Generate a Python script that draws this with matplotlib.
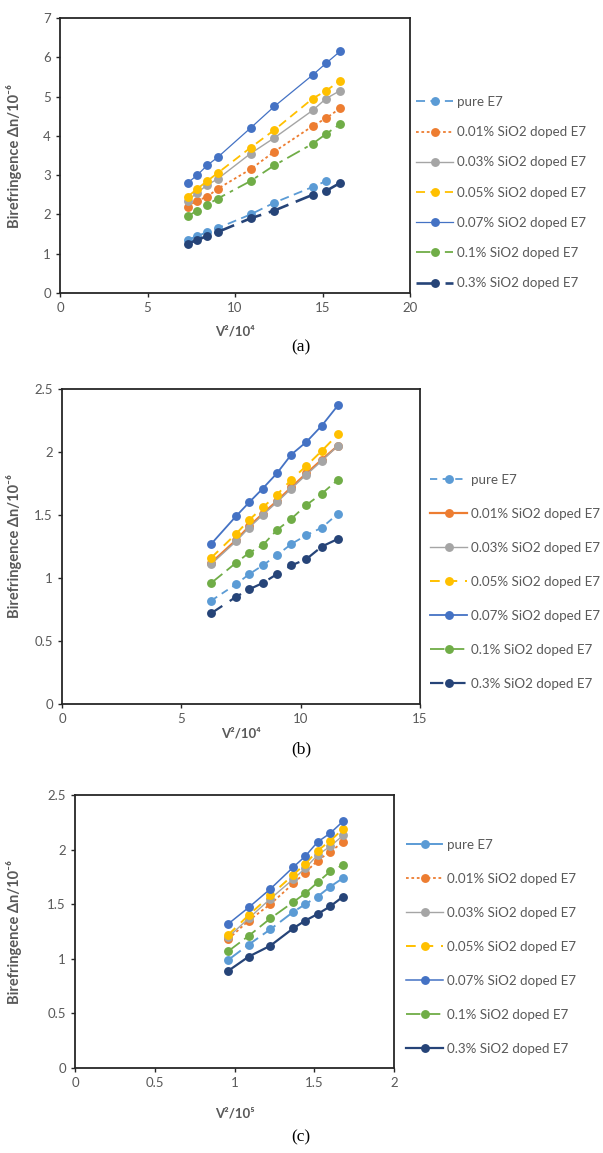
import matplotlib
matplotlib.use("Agg")
import matplotlib.pyplot as plt

W, H = 603, 1153

labels = ["pure E7", "0.01% SiO2 doped E7", "0.03% SiO2 doped E7",
          "0.05% SiO2 doped E7", "0.07% SiO2 doped E7", "0.1% SiO2 doped E7",
          "0.3% SiO2 doped E7"]
colors = ["#5B9BD5", "#ED7D31", "#A5A5A5", "#FFC000", "#4472C4", "#70AD47", "#264478"]

# ---- panel (a) ----
xa = [7.29, 7.84, 8.41, 9.0, 10.89, 12.25, 14.44, 15.21, 16.0]
a_pure = [1.35, 1.45, 1.55, 1.65, 2.0, 2.3, 2.7, 2.85]
a_001 = [2.2, 2.35, 2.45, 2.65, 3.15, 3.6, 4.25, 4.45, 4.7]
a_003 = [2.35, 2.55, 2.75, 2.9, 3.55, 3.95, 4.65, 4.95, 5.15]
a_005 = [2.45, 2.65, 2.85, 3.05, 3.7, 4.15, 4.95, 5.15, 5.4]
a_007 = [2.8, 3.0, 3.25, 3.45, 4.2, 4.75, 5.55, 5.85, 6.15]
a_01 = [1.95, 2.1, 2.25, 2.4, 2.85, 3.25, 3.8, 4.05, 4.3]
a_03 = [1.25, 1.35, 1.45, 1.55, 1.9, 2.1, 2.5, 2.6, 2.8]

# ---- panel (b) ----
xb = [6.25, 7.29, 7.84, 8.41, 9.0, 9.61, 10.24, 10.89, 11.56]
b_pure = [0.82, 0.95, 1.03, 1.10, 1.18, 1.27, 1.34, 1.40, 1.51]
b_001 = [1.12, 1.30, 1.41, 1.51, 1.61, 1.72, 1.83, 1.94, 2.05]
b_003 = [1.11, 1.29, 1.40, 1.50, 1.60, 1.71, 1.82, 1.93, 2.05]
b_005 = [1.16, 1.35, 1.46, 1.56, 1.66, 1.78, 1.89, 2.01, 2.14]
b_007 = [1.27, 1.49, 1.60, 1.71, 1.83, 1.98, 2.08, 2.21, 2.37]
b_01 = [0.96, 1.12, 1.20, 1.26, 1.38, 1.47, 1.58, 1.67, 1.78]
b_03 = [0.72, 0.85, 0.91, 0.96, 1.03, 1.10, 1.15, 1.25, 1.31]

# ---- panel (c) ----
xc = [0.961, 1.089, 1.225, 1.369, 1.444, 1.521, 1.6, 1.681]
c_pure = [0.99, 1.13, 1.27, 1.43, 1.50, 1.57, 1.66, 1.74]
c_001 = [1.18, 1.35, 1.50, 1.69, 1.79, 1.90, 1.98, 2.07]
c_003 = [1.20, 1.37, 1.55, 1.73, 1.83, 1.95, 2.03, 2.13]
c_005 = [1.22, 1.40, 1.58, 1.77, 1.87, 1.99, 2.08, 2.19]
c_007 = [1.32, 1.47, 1.64, 1.84, 1.94, 2.07, 2.15, 2.26]
c_01 = [1.07, 1.21, 1.37, 1.52, 1.60, 1.70, 1.80, 1.86]
c_03 = [0.89, 1.02, 1.12, 1.28, 1.35, 1.41, 1.48, 1.57]

styles_a = [((0, (5, 3)), 1.3), ((0, (1.5, 1.5)), 1.3), ("-", 1.0), ((0, (5, 3)), 1.3),
            ("-", 0.9), ((0, (8, 3, 2, 3)), 1.3), ((0, (8, 3)), 1.9)]
styles_b = [((0, (4, 3)), 1.3), ("-", 1.6), ("-", 1.0), ((0, (5, 4)), 1.4),
            ("-", 1.3), ((0, (8, 3)), 1.3), ((0, (6, 4)), 1.6)]
styles_c = [((0, (8, 3)), 1.4), ((0, (1.5, 1.5)), 1.3), ("-", 1.0), ((0, (5, 4)), 1.4),
            ("-", 1.1), ((0, (8, 3)), 1.3), ("-", 1.6)]

FONT = ["Lato", "DejaVu Sans"]
GRAY = "#595959"

fig = plt.figure(figsize=(W / 100, H / 100), dpi=100)


def rect(l, r, t, b):
    return [l / W, 1 - b / H, (r - l) / W, (b - t) / H]


def panel(box, x, ys, styles, xlim, xticks, ylim, yticks, xlab, ylab_x, xlab_y,
          leg_x, leg_y0, leg_dy, cap, cap_y, xticklabels, yticklabels):
    l, r, t, b = box
    ax = fig.add_axes(rect(l, r, t, b))
    for i, y in enumerate(ys):
        ls, lw = styles[i]
        ax.plot(x[:len(y)], y, color=colors[i], linestyle=ls, linewidth=lw,
                marker="o", markersize=6.4, markeredgewidth=0, label=labels[i],
                zorder=3 + (i == 4))
    ax.set_xlim(*xlim)
    ax.set_ylim(*ylim)
    ax.set_xticks(xticks)
    ax.set_xticklabels(xticklabels)
    ax.set_yticks(yticks)
    ax.set_yticklabels(yticklabels)
    for s in ax.spines.values():
        s.set_color("#262626")
        s.set_linewidth(1.3)
    ax.tick_params(axis="both", colors="#262626", labelcolor=GRAY, labelsize=9.5,
                   length=3, width=1.0, direction="out")
    for lab in ax.get_xticklabels() + ax.get_yticklabels():
        lab.set_family(FONT)
    ax.set_ylabel("Birefringence Δn/10⁻⁶", fontsize=10.5, fontweight="bold",
                  color=GRAY, family=FONT)
    ax.yaxis.set_label_coords((ylab_x - l) / (r - l), 0.5)
    ax.set_xlabel(xlab, fontsize=9.5, fontweight="bold", color=GRAY, family=FONT)
    ax.xaxis.set_label_coords(0.5, (b - xlab_y) / (b - t))
    handles, labs = ax.get_legend_handles_labels()
    for i, (h, lb) in enumerate(zip(handles, labs)):
        yy = leg_y0 + i * leg_dy
        leg = fig.legend([h], [lb], loc="center left",
                         bbox_to_anchor=(leg_x / W, 1 - yy / H),
                         frameon=False, handlelength=2.8,
                         handletextpad=0.3, borderpad=0, borderaxespad=0,
                         prop={"family": FONT, "size": 9.6})
        for tx in leg.get_texts():
            tx.set_color(GRAY)
    fig.text(301 / W, 1 - cap_y / H, cap, ha="center", va="center",
             fontsize=12.5, family="Liberation Serif", color="black")
    return ax


panel((60, 410, 18, 293), xa, [a_pure, a_001, a_003, a_005, a_007, a_01, a_03],
      styles_a, (0, 20), [0, 5, 10, 15, 20], (0, 7), list(range(8)),
      "V²/10⁴", 22, 325, 416, 102, 30.2, "(a)", 347,
      ["0", "5", "10", "15", "20"], [str(v) for v in range(8)])

panel((62, 420, 389, 704), xb, [b_pure, b_001, b_003, b_005, b_007, b_01, b_03],
      styles_b, (0, 15), [0, 5, 10, 15], (0, 2.5), [0, 0.5, 1, 1.5, 2, 2.5],
      "V²/10⁴", 22, 727, 430, 480, 34, "(b)", 749,
      ["0", "5", "10", "15"], ["0", "0.5", "1", "1.5", "2", "2.5"])

panel((75, 394, 795, 1068), xc, [c_pure, c_001, c_003, c_005, c_007, c_01, c_03],
      styles_c, (0, 2), [0, 0.5, 1, 1.5, 2], (0, 2.5), [0, 0.5, 1, 1.5, 2, 2.5],
      "V²/10⁵", 22, 1107, 406, 845, 34, "(c)", 1137,
      ["0", "0.5", "1", "1.5", "2"], ["0", "0.5", "1", "1.5", "2", "2.5"])

fig.savefig("out.png", dpi=100)
